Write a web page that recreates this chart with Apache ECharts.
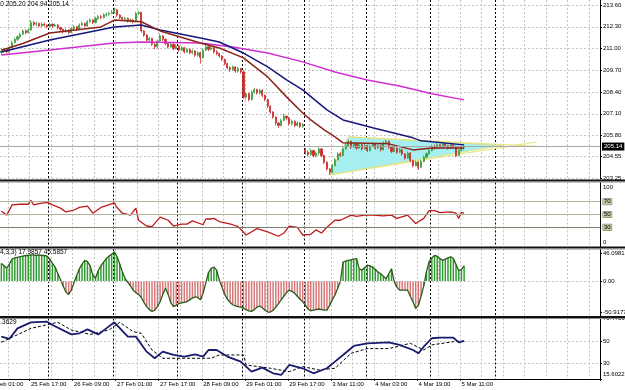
<!DOCTYPE html>
<html>
<head>
<meta charset="utf-8">
<script src="https://cdn.jsdelivr.net/npm/echarts@6/dist/echarts.min.js"></script>
<style>
  html, body { margin: 0; padding: 0; background: #fff; }
  #chart { width: 625px; height: 390px; }
</style>
</head>
<body>
<div id="chart"></div>
<script>
// hourly bars, slot index = bar number from left edge
const SLOTS = 223;

const opens = [
  210.75,210.85,210.95,210.80,211.05,211.35,211.55,211.70,211.85,212.05,211.95,212.10,
  212.55,212.45,212.50,212.35,212.45,212.40,212.30,212.45,212.35,212.40,212.25,212.15,
  212.00,212.10,211.95,212.20,212.30,212.15,212.40,212.50,212.35,212.60,212.70,212.55,
  212.80,212.90,212.85,213.00,213.05,213.10,213.15,213.30,213.00,212.85,212.75,212.80,
  212.65,212.70,212.60,213.10,213.15,212.05,211.80,211.50,211.60,211.25,211.10,211.45,
  211.75,211.55,211.30,211.10,211.25,211.00,211.15,210.90,211.05,210.80,210.95,210.75,
  210.85,210.60,210.75,210.45,210.90,211.10,210.95,211.05,210.80,210.70,210.55,210.35,
  210.10,209.85,209.75,209.90,209.65,209.80,209.60,208.10,208.30,207.95,208.40,208.55,
  208.35,208.50,208.20,207.95,207.55,207.20,206.90,206.55,206.40,206.70,206.95,206.85,
  206.50,206.65,206.40,206.55,206.35,
  204.95,204.80,204.65,204.90,204.60,204.75,
  205.00,204.60,204.20,203.80,203.60,204.00,204.35,204.70,204.60,205.00,205.20,205.45,
  205.10,205.30,205.05,205.25,205.00,205.20,204.90,205.15,205.30,205.05,205.20,204.95,
  205.35,205.45,205.10,204.85,205.05,204.80,204.95,204.70,204.45,204.75,204.30,204.00,
  204.20,203.90,204.25,204.50,204.70,204.90,205.15,205.05,205.25,205.10,205.30,205.20,
  205.05,205.25,205.15,204.60,204.90,205.10
];
const closes = [
  210.85,210.95,210.80,211.05,211.35,211.55,211.70,211.85,212.05,211.95,212.10,212.55,
  212.45,212.50,212.35,212.45,212.40,212.30,212.45,212.35,212.40,212.25,212.15,212.00,
  212.10,211.95,212.20,212.30,212.15,212.40,212.50,212.35,212.60,212.70,212.55,212.80,
  212.90,212.85,213.00,213.05,213.10,213.15,213.30,213.00,212.85,212.75,212.80,212.65,
  212.70,212.60,213.10,213.15,212.05,211.80,211.50,211.60,211.25,211.10,211.45,211.75,
  211.55,211.30,211.10,211.25,211.00,211.15,210.90,211.05,210.80,210.95,210.75,210.85,
  210.60,210.75,210.45,210.90,211.10,210.95,211.05,210.80,210.70,210.55,210.35,210.10,
  209.85,209.75,209.90,209.65,209.80,209.60,208.10,208.30,207.95,208.40,208.55,208.35,
  208.50,208.20,207.95,207.55,207.20,206.90,206.55,206.40,206.70,206.95,206.85,206.50,
  206.65,206.40,206.55,206.35,206.45,
  204.80,204.65,204.90,204.60,204.75,205.00,
  204.60,204.20,203.80,203.60,204.00,204.35,204.70,204.60,205.00,205.20,205.45,205.10,
  205.30,205.05,205.25,205.00,205.20,204.90,205.15,205.30,205.05,205.20,204.95,205.35,
  205.45,205.10,204.85,205.05,204.80,204.95,204.70,204.45,204.75,204.30,204.00,204.20,
  203.90,204.25,204.50,204.70,204.90,205.15,205.05,205.25,205.10,205.30,205.20,205.05,
  205.25,205.15,204.60,204.90,205.10,205.14
];
const highs = [
  211.00,211.05,211.00,211.15,211.45,211.65,211.80,211.95,212.15,212.15,212.20,212.70,
  212.65,212.60,212.55,212.55,212.55,212.45,212.55,212.50,212.50,212.45,212.30,212.20,
  212.20,212.15,212.30,212.40,212.35,212.50,212.60,212.55,212.70,212.80,212.75,212.90,
  213.00,213.00,213.10,213.15,213.20,213.30,213.45,213.35,213.05,212.90,212.90,212.85,
  212.80,212.75,213.20,213.25,213.20,212.10,211.85,211.70,211.65,211.30,211.55,211.90,
  211.80,211.60,211.35,211.35,211.30,211.25,211.20,211.15,211.10,211.05,211.00,210.95,
  210.90,210.85,210.80,211.00,211.30,211.15,211.20,211.10,210.90,210.75,210.60,210.40,
  210.15,209.95,210.00,209.95,209.90,209.85,209.70,208.40,208.35,208.50,208.65,208.60,
  208.60,208.55,208.25,208.00,207.60,207.25,206.95,206.60,206.80,207.10,207.00,206.90,
  206.75,206.70,206.65,206.60,206.55,
  205.05,204.90,205.00,204.95,204.85,205.10,
  205.05,204.65,204.25,203.85,204.10,204.45,204.80,204.80,205.10,205.35,205.55,205.50,
  205.40,205.35,205.35,205.30,205.30,205.25,205.25,205.40,205.35,205.30,205.25,205.45,
  205.55,205.50,205.15,205.15,205.10,205.05,205.00,204.75,204.85,204.80,204.35,204.30,
  204.25,204.35,204.60,204.80,205.00,205.25,205.25,205.35,205.30,205.40,205.35,205.25,
  205.35,205.30,205.20,205.00,205.20,205.20
];
const lows = [
  210.65,210.75,210.70,210.75,211.00,211.30,211.45,211.60,211.80,211.85,211.90,212.05,
  212.35,212.35,212.25,212.30,212.30,212.20,212.25,212.25,212.30,212.15,212.05,211.90,
  211.95,211.85,211.90,212.10,212.05,212.10,212.35,212.30,212.30,212.55,212.45,212.50,
  212.70,212.75,212.80,212.90,212.95,213.05,213.10,212.90,212.75,212.65,212.65,212.55,
  212.55,212.50,212.55,213.00,211.95,211.70,211.40,211.40,211.15,210.95,211.05,211.40,
  211.45,211.20,211.00,211.05,210.90,210.95,210.80,210.85,210.70,210.75,210.65,210.65,
  210.50,210.50,210.10,210.40,210.85,210.85,210.90,210.70,210.60,210.45,210.25,210.00,
  209.75,209.60,209.65,209.55,209.55,209.50,208.00,207.95,207.85,207.90,208.30,208.25,
  208.25,208.10,207.85,207.45,207.10,206.80,206.40,206.25,206.35,206.65,206.70,206.40,
  206.40,206.30,206.35,206.25,206.25,
  204.65,204.55,204.60,204.50,204.50,204.60,
  204.50,204.10,203.70,203.45,203.55,203.95,204.30,204.50,204.55,204.95,205.15,205.00,
  205.05,204.95,205.00,204.90,204.95,204.80,204.85,205.10,204.95,205.00,204.85,204.90,
  205.30,205.00,204.75,204.80,204.70,204.75,204.60,204.35,204.40,204.20,203.90,203.95,
  203.75,203.85,204.20,204.45,204.65,204.85,204.95,205.00,205.00,205.05,205.10,204.95,
  205.00,205.05,204.50,204.55,204.85,204.94
];

// moving averages: [slot, price]
const maFast = [[0,210.9],[8,211.3],[18,211.93],[37,212.29],[42,212.7],[52,212.6],[59,212.05],[74,211.33],[81,211.03],[90,210.44],[99,209.3],[106,208.11],[112,207.15],[115,206.73],[120,206.14],[124,205.72],[127,205.36],[144,205.3],[153,204.94],[160,205.06],[172,205.06]];
const maMid = [[0,210.79],[18,211.51],[42,212.29],[52,212.41],[59,212.11],[74,211.63],[81,211.39],[90,210.73],[99,209.9],[106,209.12],[112,208.53],[121,207.33],[127,206.73],[138,206.26],[144,206.02],[153,205.66],[156,205.48],[172,205.24]];
const maSlow = [[0,210.61],[18,210.91],[42,211.33],[52,211.39],[74,211.33],[86,211.09],[99,210.73],[112,210.2],[124,209.6],[136,209.12],[148,208.76],[160,208.29],[172,207.93]];

// drawn objects
const trianglePts = [[122,203.45],[129,205.72],[186,205.21]];
const trendLines = [[[122,203.45],[199,205.42]], [[129,205.72],[204,205.12]]];

const rsi = [[0,55],[2,49],[4,65],[7,66],[10,66],[11,72],[12,65],[14,67],[17,69],[19,65],[22,60],[24,54],[27,57],[29,61],[32,63],[34,52],[37,61],[39,64],[42,68],[43,61],[45,52],[48,49],[50,60],[51,41],[54,32],[56,31],[59,46],[62,41],[64,32],[67,35],[69,35],[71,40],[75,34],[76,43],[78,43],[79,44],[81,39],[84,36],[86,34],[88,31],[91,18],[95,28],[99,23],[103,16],[105,21],[107,32],[110,30],[112,18],[115,19],[117,26],[119,21],[121,30],[124,41],[126,41],[130,49],[132,47],[135,49],[138,49],[142,48],[145,49],[147,44],[151,49],[154,36],[157,44],[159,56],[161,56],[163,53],[167,54],[169,52],[170,44],[171,53],[172,52]];
const rsiLevels = [70, 50, 30];

const osc = [
  29,25,21,28,36,38,39,40,41,42,42,43,43,42,43,42,42,41,
  36,29,23,12,2,-8,-18,-22,-15,-3,9,20,28,34,32,25,10,5,
  17,25,31,37,41,44,48,40,28,15,4,-2,-8,-15,-19,-22,-27,-35,
  -42,-47,-50,-48,-42,-34,-22,-12,-22,-36,-42,-40,-37,-36,-35,-34,-31,-28,
  -26,-27,-31,-20,-3,14,21,23,18,2,-10,-22,-30,-35,-39,-41,-42,-43,
  -45,-47,-49,-50,-47,-43,-41,-44,-48,-51,-51,-48,-43,-37,-31,-25,-19,-15,
  -17,-20,-25,-30,-34,-40,-46,-49,-48,-47,-46,-47,-48,-48,-40,-31,-23,-12,
  -1,31,33,34,35,36,37,20,18,22,26,25,23,19,15,12,8,4,
  12,20,-1,-10,-15,-15,-15,-15,-25,-34,-45,-40,-25,-8,15,32,38,42,
  41,37,34,36,38,40,37,27,17,19,25
];

const stochMain = [[0,54],[3,52],[6,61.5],[11,67],[17,67.6],[19,64.6],[26,56],[29,57],[32,60.6],[36,56],[39,61.5],[42,67],[47,54],[50,54],[54,40.3],[57,34.3],[60,40.3],[64,37.3],[68,35.8],[72,37.9],[75,35.8],[77,41.8],[80,41.8],[84,35.8],[89,31.2],[93,22.1],[97,25.8],[101,20.6],[104,19.1],[107,28.2],[112,25.2],[116,20.6],[121,25.2],[124,31.2],[127,37.3],[131,45.5],[136,47.9],[144,48.8],[148,46.4],[153,41.8],[155,38.8],[157,44.8],[160,52.5],[163,53],[168,53],[170,48.8],[172,50]];
const stochSignal = [[0,48.8],[11,61.5],[21,67],[26,60],[33,56],[40,60],[44,67],[49,58.5],[52,57],[56,41.8],[60,34.3],[78,34.3],[81,37.3],[90,37.3],[91,28.2],[100,25.2],[107,22.1],[112,26.7],[118,23.6],[124,25.2],[130,38.8],[136,43.1],[144,43.1],[152,47.9],[157,41.8],[160,46.4],[168,49.4],[172,50]];

// axis ticks
const priceTicks = [213.60, 212.30, 211.00, 209.70, 208.40, 207.10, 205.80, 204.55, 203.25];
const oscTicks = [46.0981, 0, -50.9177];
const stochTicks = [70.4753, 50, 30, 15.6022];
const labelSlots = [-5, 11, 27, 43, 59, 75, 91, 107, 123, 139, 155, 171];
const labelTexts = ['25 Feb 01:00','25 Feb 17:00','26 Feb 09:00','27 Feb 01:00','27 Feb 17:00','28 Feb 09:00','29 Feb 01:00','29 Feb 17:00','3 Mar 11:00','4 Mar 03:00','4 Mar 19:00','5 Mar 11:00'];
const dayStarts = [18, 42, 66, 90, 113, 136, 160, 184];

const FONT = 'Liberation Sans';
const slots = Array.from({ length: SLOTS }, (_, i) => String(i));
const candles = closes.map((c, i) => [opens[i], c, lows[i], highs[i]]);
const lastClose = closes[closes.length - 1];

const chart = echarts.init(document.getElementById('chart'));

const grids = [
  { top: 0, height: 179 },
  { top: 182.5, height: 64 },
  { top: 249, height: 67 },
  { top: 318.5, height: 60.3 }
].map(g => Object.assign({ left: 0, right: 25, containLabel: false, outerBoundsMode: 'none' }, g));

const xAxes = [];
grids.forEach((g, gi) => {
  const bottom = gi === 3;
  xAxes.push({
    type: 'category', gridIndex: gi, data: slots, boundaryGap: true,
    axisLine: { show: bottom, lineStyle: { color: '#000', width: 1 } },
    axisTick: { show: bottom, interval: i => labelSlots.includes(i), length: 2, lineStyle: { color: '#000' } },
    axisLabel: {
      show: bottom, interval: i => labelSlots.includes(i), align: 'left', margin: 3,
      fontSize: 6, color: '#000', fontFamily: FONT,
      formatter: v => labelTexts[labelSlots.indexOf(+v)] || ''
    },
    splitLine: { show: true, interval: i => (i - 3) % 8 === 0, lineStyle: { color: '#c4c4c4', type: [2, 2], width: 1 } }
  });
  xAxes.push({
    type: 'category', gridIndex: gi, data: slots, boundaryGap: true, position: 'top',
    axisLine: { show: false }, axisTick: { show: false }, axisLabel: { show: false },
    splitLine: { show: true, interval: i => dayStarts.includes(i), lineStyle: { color: '#000', type: [2, 2], width: 1 } }
  });
});

const axisBase = {
  type: 'value', position: 'right', scale: true,
  axisLine: { show: true, lineStyle: { color: '#000' } },
  axisTick: { show: true, length: 2, lineStyle: { color: '#000' } }
};
const lbl = { fontSize: 6, color: '#000', fontFamily: FONT, margin: 3 };

const yAxes = [
  Object.assign({}, axisBase, {
    gridIndex: 0, min: 203.2, max: 213.9,
    axisTick: { show: true, length: 2, lineStyle: { color: '#000' }, customValues: priceTicks },
    axisLabel: Object.assign({}, lbl, { customValues: priceTicks, formatter: v => v.toFixed(2) }),
    splitLine: { show: true, lineStyle: { color: '#c4c4c4', type: [2, 2] } }
  }),
  Object.assign({}, axisBase, {
    gridIndex: 1, min: 0, max: 100,
    axisTick: { show: false, customValues: [0, 100] },
    axisLabel: Object.assign({}, lbl, {
      customValues: [0, 100],
      formatter: v => (v === 100 ? '{dn|100}' : '{up|0}'),
      rich: { dn: { fontSize: 6, padding: [9, 0, 0, 0] }, up: { fontSize: 6, padding: [0, 0, 9, 0] } }
    }),
    splitLine: { show: false }
  }),
  Object.assign({}, axisBase, {
    gridIndex: 2, min: -57.5, max: 52.7,
    axisTick: { show: true, length: 2, lineStyle: { color: '#000' }, customValues: oscTicks },
    axisLabel: Object.assign({}, lbl, { customValues: oscTicks, formatter: v => (v === 0 ? '0.00' : v.toFixed(4)) }),
    splitLine: { show: false }
  }),
  Object.assign({}, axisBase, {
    gridIndex: 3, min: 15.6022, max: 70.4753,
    axisTick: { show: true, length: 2, lineStyle: { color: '#000' }, customValues: stochTicks },
    axisLabel: Object.assign({}, lbl, {
      customValues: stochTicks,
      formatter: v => (Number.isInteger(v) ? String(v) : (v < 20 ? '{up|' + v.toFixed(4) + '}' : v.toFixed(4))),
      rich: { up: { fontSize: 6, padding: [0, 0, 9, 0] } }
    }),
    splitLine: { show: true, showMinLine: false, showMaxLine: false, lineStyle: { color: '#c4c4c4', type: [2, 2] } }
  })
];

const maLine = (data, color) => ({
  type: 'line', xAxisIndex: 0, yAxisIndex: 0, data: data, symbol: 'none', z: 4,
  lineStyle: { color: color, width: 1.5 }
});

const series = [
  {
    type: 'custom', xAxisIndex: 0, yAxisIndex: 0, z: 1, silent: true,
    data: [trianglePts[0]],
    renderItem: (params, api) => {
      const children = [{
        type: 'polygon',
        shape: { points: trianglePts.map(p => api.coord(p)) },
        style: { fill: '#a6eff0', stroke: '#e2e28a', lineWidth: 1 }
      }];
      trendLines.forEach(seg => {
        const a = api.coord(seg[0]), b = api.coord(seg[1]);
        children.push({ type: 'line', shape: { x1: a[0], y1: a[1], x2: b[0], y2: b[1] }, style: { stroke: '#e4e47c', lineWidth: 1 } });
      });
      return { type: 'group', children: children };
    }
  },
  {
    type: 'candlestick', xAxisIndex: 0, yAxisIndex: 0, data: candles, barWidth: 1.6, z: 3,
    itemStyle: { color: '#3c9c3c', color0: '#cc2828', borderColor: '#3c9c3c', borderColor0: '#cc2828', borderWidth: 0.8 },
    markLine: {
      symbol: 'none', silent: true, animation: false,
      data: [{ yAxis: lastClose }],
      lineStyle: { color: '#a8a8a8', type: 'solid', width: 1 },
      label: { position: 'end', distance: 2, formatter: lastClose.toFixed(2), backgroundColor: '#000', color: '#fff', fontSize: 6, fontFamily: FONT, padding: [1, 2] }
    }
  },
  maLine(maSlow, '#d22ed2'),
  maLine(maMid, '#16167c'),
  maLine(maFast, '#8a2418'),
  {
    type: 'line', xAxisIndex: 2, yAxisIndex: 1, data: rsi, symbol: 'none', z: 4,
    lineStyle: { color: '#c01a1a', width: 1.3 },
    markLine: {
      symbol: 'none', silent: true, animation: false,
      data: rsiLevels.map(v => ({ yAxis: v, lineStyle: { color: v === 30 ? '#7e7e6c' : '#b2b29a' } })),
      lineStyle: { type: 'solid', width: 1 },
      label: { position: 'end', distance: 3, formatter: p => String(p.value), fontSize: 6, fontFamily: FONT, color: '#000', backgroundColor: '#c6c6a4', borderColor: '#6e6e50', borderWidth: 0.5, padding: [0, 1] }
    }
  },
  {
    type: 'bar', xAxisIndex: 4, yAxisIndex: 2, data: osc, barWidth: '55%', z: 2,
    itemStyle: { color: p => (p.value >= 0 ? '#2f9a2f' : '#d67676') },
    markLine: {
      symbol: 'none', silent: true, animation: false, data: [{ yAxis: 0 }],
      lineStyle: { color: '#c4c4c4', type: [2, 2], width: 1 }, label: { show: false }
    }
  },
  {
    type: 'line', xAxisIndex: 4, yAxisIndex: 2, data: osc, symbol: 'none', z: 3,
    lineStyle: { color: '#2c5a18', width: 1.3 }
  },
  {
    type: 'line', xAxisIndex: 6, yAxisIndex: 3, data: stochSignal, symbol: 'none', z: 3,
    lineStyle: { color: '#000', width: 1, type: [3, 2] }
  },
  {
    type: 'line', xAxisIndex: 6, yAxisIndex: 3, data: stochMain, symbol: 'none', z: 4,
    lineStyle: { color: '#1a1a6e', width: 1.8 }
  }
];

const sep = y => [
  { type: 'rect', shape: { x: 0, y: y, width: 625, height: 2 }, style: { fill: '#111' }, z: 100 },
  { type: 'rect', shape: { x: 0, y: y + 2, width: 625, height: 1 }, style: { fill: '#8a8a8a' }, z: 100 }
];
const txt = (x, y, s) => ({ type: 'text', x: x, y: y, z: 101, style: { text: s, font: '6.5px "Liberation Sans"', fill: '#000', textVerticalAlign: 'top' } });

chart.setOption({
  animation: false,
  backgroundColor: '#fff',
  textStyle: { fontFamily: FONT },
  grid: grids,
  xAxis: xAxes,
  yAxis: yAxes,
  series: series,
  graphic: [].concat(
    sep(179.5), sep(246.5), sep(316),
    [txt(-16, 1, '205.20 205.20 204.94 205.14'),
     txt(0, 249, '4,3,3) 17.9857 45.5857'),
     txt(-7, 319, '54.3629')]
  )
});

// labels whose tick lies left of the first bar
const x0 = chart.convertToPixel({ xAxisIndex: 6 }, 0);
const x1 = chart.convertToPixel({ xAxisIndex: 6 }, 1);
const extra = [];
labelSlots.forEach((s, k) => {
  if (s < 0 && isFinite(x0) && isFinite(x1)) {
    extra.push({ type: 'text', x: x0 + s * (x1 - x0), y: 381.8, z: 101,
      style: { text: labelTexts[k], font: '6px "Liberation Sans"', fill: '#000', textVerticalAlign: 'top' } });
  }
});
if (extra.length) {
  chart.setOption({ graphic: [].concat(sep(179.5), sep(246.5), sep(316),
    [txt(-16, 1, '205.20 205.20 204.94 205.14'), txt(0, 249, '4,3,3) 17.9857 45.5857'), txt(-7, 319, '54.3629')], extra) });
}
</script>
</body>
</html>
